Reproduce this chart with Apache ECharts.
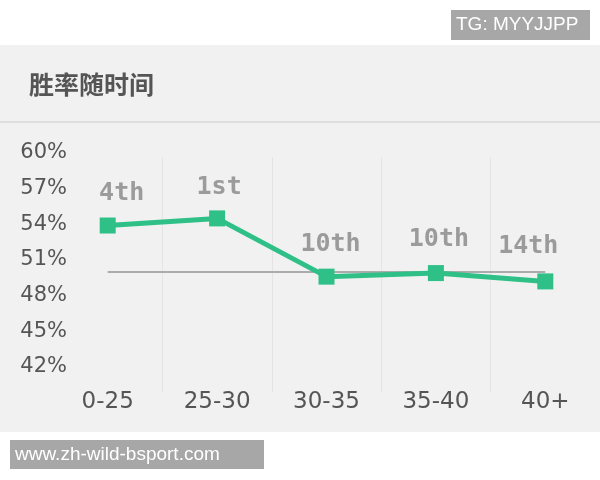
<!DOCTYPE html>
<html>
<head>
<meta charset="utf-8">
<style>
  html, body { margin: 0; padding: 0; background: #fff; }
  #chart { width: 600px; height: 480px; }
</style>
<script src="https://cdn.jsdelivr.net/npm/echarts@6/dist/echarts.min.js"></script>
</head>
<body>
<div id="chart"></div>
<script>
// Data
const categories = ['0-25', '25-30', '30-35', '35-40', '40+'];
const winRates = [53.9, 54.5, 49.6, 49.9, 49.2];
const ranks = ['4th', '1st', '10th', '10th', '14th'];
const baseline = 50;
const yMin = 42;
const yMax = 60;
const yStep = 3;

// small nudges for the rank labels, so they sit where the original has them
const labelShift = [[14, 0], [2, 2], [4, 0], [3, -1], [-17, -2]];

const GREEN = '#2fc088';

const chart = echarts.init(document.getElementById('chart'), null, { renderer: 'canvas' });

chart.setOption({
  animation: false,
  backgroundColor: '#fff',
  graphic: [
    // grey panel behind the chart
    { type: 'rect', z: -10, shape: { x: 0, y: 45, width: 600, height: 387 }, style: { fill: '#f1f1f1' } },
    // separator under the heading
    { type: 'rect', z: -9, shape: { x: 0, y: 121, width: 600, height: 2 }, style: { fill: '#dedede' } },
    // top right tag
    {
      type: 'group', left: 451, top: 10,
      children: [
        { type: 'rect', shape: { x: 0, y: 0, width: 139, height: 30 }, style: { fill: '#a7a7a7' } },
        { type: 'text', x: 5, y: 15, style: { text: 'TG: MYYJJPP', fill: '#fff', font: '19px "Liberation Sans", Arial, sans-serif', verticalAlign: 'middle' } }
      ]
    },
    // bottom left site tag
    {
      type: 'group', left: 10, top: 440,
      children: [
        { type: 'rect', shape: { x: 0, y: 0, width: 254, height: 29 }, style: { fill: '#a7a7a7' } },
        { type: 'text', x: 5, y: 14.5, style: { text: 'www.zh-wild-bsport.com', fill: '#fff', font: '19px "Liberation Sans", Arial, sans-serif', verticalAlign: 'middle' } }
      ]
    }
  ],
  title: {
    text: '胜率随时间',
    left: 24,
    top: 67,
    textStyle: { fontFamily: '"Noto Sans CJK SC", sans-serif', fontSize: 25, fontWeight: 'bold', color: '#555' }
  },
  grid: [
    // plot
    { left: 53, width: 550, top: 153, height: 214 },
    // taller band that only carries the faint column lines
    { left: 53, width: 550, top: 157, height: 235 }
  ],
  xAxis: [{
    type: 'category',
    gridIndex: 0,
    data: categories,
    boundaryGap: true,
    axisLine: { show: false },
    axisTick: { show: false },
    axisLabel: {
      margin: 24,
      color: '#555',
      fontFamily: '"DejaVu Sans", sans-serif',
      fontSize: 23
    },
    splitLine: { show: false }
  }, {
    type: 'category',
    gridIndex: 1,
    data: categories,
    boundaryGap: true,
    axisLine: { show: false },
    axisTick: { show: false },
    axisLabel: { show: false },
    splitLine: {
      show: true,
      interval: (idx) => idx > 0,
      lineStyle: { color: '#e4e4e4', width: 1 }
    }
  }],
  yAxis: [{
    type: 'value',
    gridIndex: 0,
    min: yMin,
    max: yMax,
    interval: yStep,
    axisLine: { show: false },
    axisTick: { show: false },
    splitLine: { show: false },
    axisLabel: {
      margin: -14,
      align: 'right',
      color: '#555',
      fontFamily: '"DejaVu Sans", sans-serif',
      fontSize: 21,
      formatter: '{value}%'
    }
  }, {
    type: 'value',
    gridIndex: 1,
    show: false
  }],
  series: [{
    type: 'line',
    xAxisIndex: 0,
    yAxisIndex: 0,
    data: winRates.map((v, i) => ({
      value: v,
      label: { offset: labelShift[i] }
    })),
    symbol: 'rect',
    symbolSize: 16,
    lineStyle: { color: GREEN, width: 5 },
    itemStyle: { color: GREEN },
    label: {
      show: true,
      position: 'top',
      distance: 12,
      color: '#9b9b9b',
      fontFamily: '"DejaVu Sans Mono", monospace',
      fontWeight: 'bold',
      fontSize: 25,
      formatter: (p) => ranks[p.dataIndex]
    },
    markLine: {
      silent: true,
      symbol: 'none',
      z: 1,
      label: { show: false },
      lineStyle: { color: '#ababab', width: 2, type: 'solid' },
      data: [[
        { coord: [categories[0], baseline] },
        { coord: [categories[categories.length - 1], baseline] }
      ]]
    }
  }]
});
</script>
</body>
</html>
